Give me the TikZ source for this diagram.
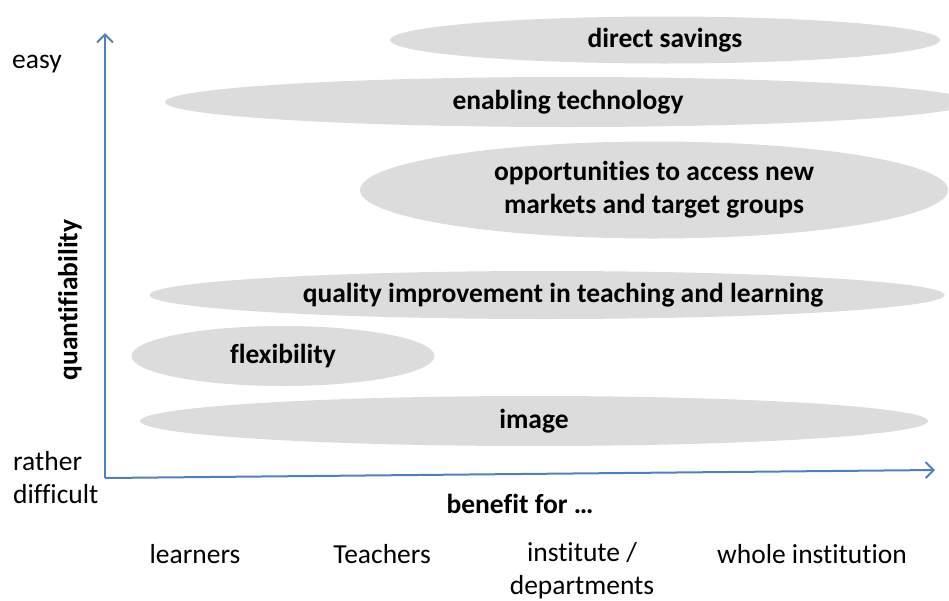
\documentclass[tikz,border=0pt]{standalone}
\usepackage{fontspec}
\setmainfont[Ligatures={NoCommon}]{Carlito}
\usetikzlibrary{shapes.geometric,arrows.meta}
\definecolor{axisblue}{HTML}{4F81BD}
\definecolor{blobgray}{HTML}{DCDCDC}
\begin{document}
\begin{tikzpicture}[x=1pt,y=-1pt,font=\fontsize{27.5}{33}\selectfont,>={Straight Barb[length=8pt,width=16pt]}]

\tikzstyle{blob}=[ellipse,fill=blobgray,inner sep=0pt,font=\fontsize{27.5}{33}\selectfont\bfseries,align=center]
\tikzstyle{axis}=[->,draw=axisblue,line width=2pt]

\useasboundingbox (0,0) rectangle (949,600);

    \node[blob,minimum width=550,minimum height=47]  (ds)  at (665,40)  {direct savings};
    \node[blob,minimum width=806,minimum height=50]  (et)  at (568,102) {enabling technology};
    \node[blob,minimum width=588,minimum height=97]  (opp) at (654,190) {opportunities to access new\\markets and target groups};
    \node[blob,minimum width=795,minimum height=48]  (qi)  at (547,295) {\hspace*{32pt}quality improvement in teaching and learning};
    \node[blob,minimum width=303,minimum height=60]  (fl)  at (283,356) {flexibility};
    \node[blob,minimum width=788,minimum height=50]  (im)  at (534,421) {image};

    \coordinate (o)    at (105,478);
    \coordinate (ytop) at (105,33);
    \coordinate (xend) at (935,470);
    \draw[axis] (o) -- (ytop);
    \draw[axis] (o) -- (xend);

    \node (easy)  at (37,64)  {easy};
    \node[align=left,anchor=west,inner sep=0pt] (hard) at (13,478) {rather\\difficult};
    \node[rotate=90,font=\fontsize{27.5}{33}\selectfont\bfseries] (quant) at (70,300) {quantifiability};
    \node[font=\fontsize{27.5}{33}\selectfont\bfseries] (ben) at (520,504) {benefit for …};

    \node (lrn)  at (195,554) {learners};
    \node (tch)  at (382,554) {Teachers};
    \node[align=center] (inst) at (582,571) {institute /\\departments};
    \node (whole) at (812,554) {whole institution};

\end{tikzpicture}
\end{document}
